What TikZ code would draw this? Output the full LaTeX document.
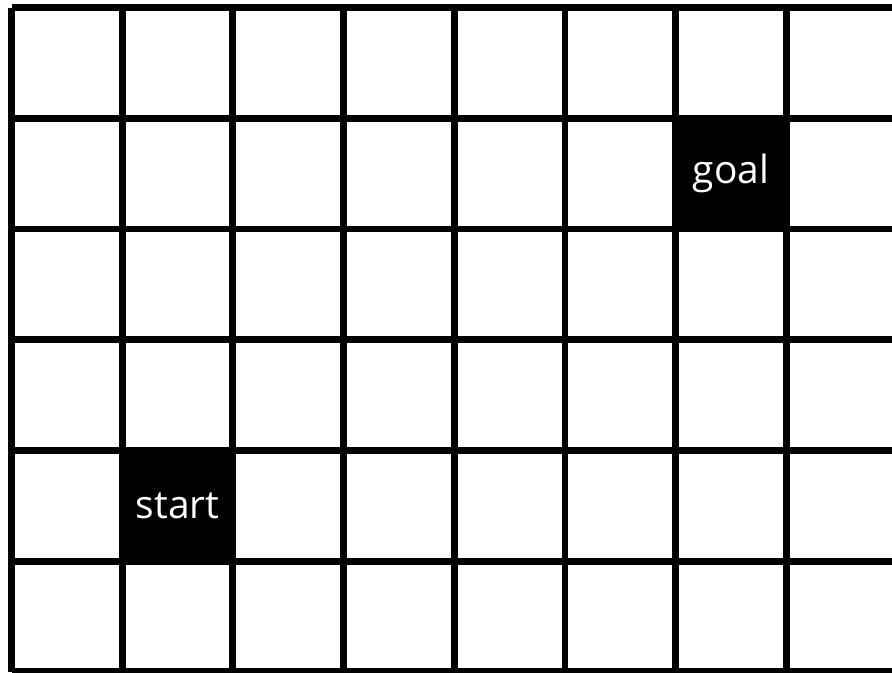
\documentclass[tikz,border=0pt]{standalone}
\usepackage{fontspec}
\setmainfont{Open Sans}

\begin{document}
\begin{tikzpicture}[
  x=1.4cm, y=1.4cm,
  gridline/.style={line width=2.5pt, draw=black},
  mark cell/.style={fill=black, draw=none, text=white, inner sep=0pt, minimum size=1.4cm, font=\fontsize{14}{17}\selectfont}
]

  % Rahmen des Bildes
  \useasboundingbox (-0.104,-0.01) rectangle (7.954,6.069);
  \clip (-0.104,-0.01) rectangle (7.954,6.069);

  % Start- und Zielfeld
  \node[mark cell] (start) at (1.5, 1.5) {start};
  \node[mark cell] (goal) at (6.5, 4.5) {goal};

  % Gitter
  \draw[gridline, step=1.4cm] (0,0) grid (8.5,6);

\end{tikzpicture}
\end{document}
